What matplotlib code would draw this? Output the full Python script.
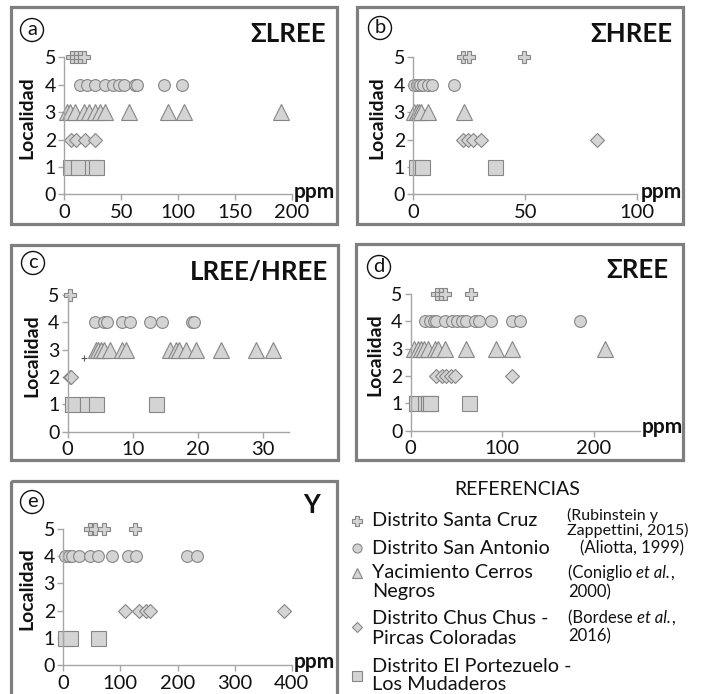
import matplotlib.pyplot as plt
from matplotlib.patches import Rectangle, Circle

plt.rcParams["font.family"] = ["Lato", "DejaVu Sans"]

W, H = 707, 694

# localidad codes
loc_santa_cruz = 5
loc_san_antonio = 4
loc_cerros_negros = 3
loc_chus_chus = 2
loc_portezuelo = 1

# (a) sum LREE, ppm
lree_santa_cruz = [7, 10, 14, 17]
lree_san_antonio = [14, 20, 27, 36, 43, 48, 52, 62, 64, 88, 103]
lree_cerros_negros = [2, 5, 9, 17, 22, 27, 31, 36, 57, 91, 105, 190]
lree_chus_chus = [6, 10, 18, 27]
lree_portezuelo = [5, 12, 24, 28]

# (b) sum HREE, ppm
hree_santa_cruz = [22, 25, 49.5]
hree_san_antonio = [0.5, 1.5, 3, 4.5, 6.5, 8.5, 18]
hree_cerros_negros = [0.3, 1.5, 2.5, 3.5, 6.5, 22.5]
hree_chus_chus = [22, 24.5, 26.5, 30, 82]
hree_portezuelo = [1, 4, 36.5]

# (c) LREE/HREE
ratio_santa_cruz = [0.4]
ratio_san_antonio = [4.2, 5.6, 6.0, 8.3, 9.5, 12.6, 14.5, 19.1, 19.4]
ratio_cerros_negros = [4.3, 4.7, 5.1, 5.5, 6.5, 8.3, 9.0, 15.7, 16.6, 17.1, 18.2, 19.7, 23.5, 28.9, 31.5]
ratio_chus_chus = [0.3, 0.5]
ratio_portezuelo = [0.6, 3.0, 4.4, 13.6]
ratio_stray_x = [2.5]
ratio_stray_y = [2.7]

# (d) sum REE, ppm
ree_santa_cruz = [29, 33, 37, 66]
ree_san_antonio = [16, 21, 25, 28, 37, 45, 51, 56, 60, 70, 75, 88, 110, 119, 185]
ree_cerros_negros = [4, 8, 11, 15, 19, 27, 30, 37, 60, 93, 110, 212]
ree_chus_chus = [28, 34, 38, 44, 48, 110]
ree_portezuelo = [6, 16, 19, 21, 64]

# (e) Y, ppm
y_santa_cruz = [47, 55, 72, 126]
y_san_antonio = [3, 10, 15, 28, 47, 60, 85, 114, 128, 217, 235]
y_cerros_negros = []
y_chus_chus = [108, 133, 144, 151, 387]
y_portezuelo = [3, 12, 60]

fill = "#d4d4d4"
edge = "#868686"
axis_col = "#a6a6a6"
frame_col = "#7f7f7f"
text_col = "#111111"

styles = [
    (loc_santa_cruz, "P", 8.0),
    (loc_san_antonio, "o", 8.5),
    (loc_cerros_negros, "^", 11.0),
    (loc_chus_chus, "D", 7.6),
    (loc_portezuelo, "s", 10.8),
]

fig = plt.figure(figsize=(W / 100, H / 100), dpi=100)
renderer = fig.canvas.get_renderer()

# overlay in pixel units (origin top-left) for frames, labels, legend
ov = fig.add_axes([0, 0, 1, 1])
ov.set_xlim(0, W)
ov.set_ylim(H, 0)
ov.axis("off")


def add_frame(x0, y0, x1, y1):
    ov.add_patch(Rectangle((x0, y0), x1 - x0, y1 - y0, fill=False,
                           edgecolor=frame_col, lw=2.3, clip_on=False))


def add_panel(box, xlim, xticks, series, letter, title, title_pos, letter_pos,
              ylab_x, ppm_pos=None):
    x0, x1, y0, y5 = box
    ax = fig.add_axes([x0 / W, 1 - y0 / H, (x1 - x0) / W, (y0 - y5) / H])
    ax.set_xlim(0, xlim)
    ax.set_ylim(0, 5)
    for vals, (loc, mk, ms) in zip(series, styles):
        if len(vals) == 0:
            continue
        ax.plot(vals, [loc] * len(vals), linestyle="none", marker=mk, markersize=ms,
                markerfacecolor=fill, markeredgecolor=edge, markeredgewidth=0.8,
                clip_on=False)
    ax.set_xticks(xticks)
    ax.set_yticks(range(6))
    ax.tick_params(axis="x", labelsize=14.5, colors=axis_col, labelcolor=text_col,
                   length=4, width=1, pad=3)
    ax.tick_params(axis="y", labelsize=14, colors=axis_col, labelcolor=text_col,
                   length=4, width=1, pad=2)
    for s in ["top", "right"]:
        ax.spines[s].set_visible(False)
    for s in ["left", "bottom"]:
        ax.spines[s].set_color(axis_col)
        ax.spines[s].set_linewidth(1)
    ax.patch.set_alpha(0)

    ov.text(ylab_x, (y0 + y5) / 2 - 8, "Localidad", rotation=90, fontsize=14,
            fontweight="bold", ha="center", va="center", color=text_col)
    ov.text(title_pos[0], title_pos[1], title, fontsize=18.5, fontweight="bold",
            ha="right", va="baseline", color=text_col)
    cx, cy = letter_pos
    ov.add_patch(Circle((cx, cy), 11.5, fill=False, edgecolor=text_col, lw=1.0))
    ov.text(cx, cy - 1, letter, fontsize=14.5, ha="center", va="center", color=text_col)
    if ppm_pos is not None:
        ov.text(ppm_pos[0], ppm_pos[1], "ppm", fontsize=15, fontweight="bold",
                ha="left", va="baseline", color=text_col)
    return ax


add_frame(11, 7, 337, 224)
add_frame(357, 7, 683, 224)
add_frame(11, 245, 338, 460)
add_frame(356, 244, 683, 460)
add_frame(11, 481, 337, 720)

add_panel((64.3, 292, 194.3, 57.3), 200, [0, 50, 100, 150, 200],
          [lree_santa_cruz, lree_san_antonio, lree_cerros_negros, lree_chus_chus, lree_portezuelo],
          "a", "ΣLREE", (326, 42), (32, 30), 27, (294, 198))
add_panel((413.3, 637.3, 194.3, 57.3), 100, [0, 50, 100],
          [hree_santa_cruz, hree_san_antonio, hree_cerros_negros, hree_chus_chus, hree_portezuelo],
          "b", "ΣHREE", (672, 42), (380, 28), 377, (641, 198))
ax_c = add_panel((67.7, 289.4, 431.7, 295), 34, [0, 10, 20, 30],
                 [ratio_santa_cruz, ratio_san_antonio, ratio_cerros_negros, ratio_chus_chus, ratio_portezuelo],
                 "c", "LREE/HREE", (328, 280), (33, 263), 32)
ax_c.plot(ratio_stray_x, ratio_stray_y, linestyle="none", marker="+", markersize=4,
          color="#555555", markeredgewidth=0.8)
add_panel((410.7, 639.9, 430.7, 294), 250, [0, 100, 200],
          [ree_santa_cruz, ree_san_antonio, ree_cerros_negros, ree_chus_chus, ree_portezuelo],
          "d", "ΣREE", (668, 278), (379, 267), 375, (642, 433))
add_panel((63.3, 291.7, 665, 529), 400, [0, 100, 200, 300, 400],
          [y_santa_cruz, y_san_antonio, y_cerros_negros, y_chus_chus, y_portezuelo],
          "e", "Y", (320, 513), (32, 502), 27, (294, 668))

# legend
ov.text(517, 489, "REFERENCIAS", fontsize=14, ha="center", va="center", color=text_col)
leg_lines = [
    ["Distrito Santa Cruz"],
    ["Distrito San Antonio"],
    ["Yacimiento Cerros", "Negros"],
    ["Distrito Chus Chus -", "Pircas Coloradas"],
    ["Distrito El Portezuelo -", "Los Mudaderos"],
]
leg_line_y = [[521], [548], [573, 592], [618, 638], [667, 685]]
leg_marker_y = [521, 548, 573, 627, 676]
leg_marker_sizes = [7, 6.5, 7, 5.5, 7.5]
# each ref line is a list of (text, italic) pieces
ref_lines = [
    [[("(Rubinstein y", False)], [("Zappettini, 2015)", False)]],
    [[("(Aliotta, 1999)", False)]],
    [[("(Coniglio ", False), ("et al.", True), (",", False)], [("2000)", False)]],
    [[("(Bordese ", False), ("et al.", True), (",", False)], [("2016)", False)]],
    [],
]
ref_line_x = [567, 580, 568, 568, 568]
ref_line_y = [[515, 530], [548], [573, 592], [618, 636], []]
ref_sizes = [11.5, 12, 12, 12, 12]


def pieces_text(x, y, pieces, size):
    for txt, it in pieces:
        t = ov.text(x, y, txt, fontsize=size, ha="left", va="center", color=text_col,
                    fontstyle="italic" if it else "normal")
        x += t.get_window_extent(renderer=renderer).width


for i in range(5):
    mk = styles[i][1]
    ov.plot([357], [leg_marker_y[i]], linestyle="none", marker=mk,
            markersize=leg_marker_sizes[i], markerfacecolor=fill,
            markeredgecolor=edge, markeredgewidth=0.8)
    for line, yy in zip(leg_lines[i], leg_line_y[i]):
        ov.text(372, yy, line, fontsize=14.3, ha="left", va="center", color=text_col)
    for pieces, yy in zip(ref_lines[i], ref_line_y[i]):
        pieces_text(ref_line_x[i], yy, pieces, ref_sizes[i])

fig.savefig("out.png", dpi=100)
